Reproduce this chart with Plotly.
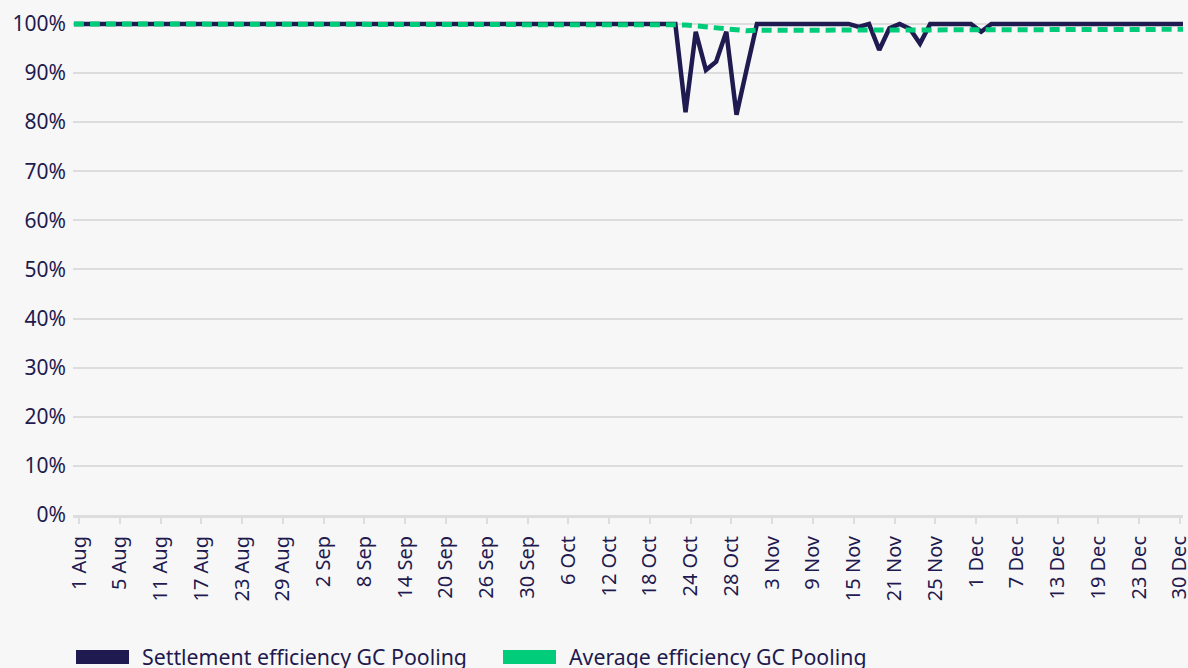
import pandas as pd
import plotly.graph_objects as go

# Data points: every weekday 1 Aug - 30 Dec 2022 (110 points)
point_days = pd.bdate_range("2022-08-01", "2022-12-30")
point_dates = [f"{d.day} {d.strftime('%b')}" for d in point_days]
# Axis labels: TARGET business days (26 Dec closed), one label every 4 days
label_days = [d for d in point_days if d != pd.Timestamp("2022-12-26")]
label_dates = [f"{d.day} {d.strftime('%b')}" for d in label_days]
tick_labels = label_dates[::4]

settlement = [
    100, 100, 100, 100, 100, 100, 100, 100, 100, 100,
    100, 100, 100, 100, 100, 100, 100, 100, 100, 100,
    100, 100, 100, 100, 100, 100, 100, 100, 100, 100,
    100, 100, 100, 100, 100, 100, 100, 100, 100, 100,
    100, 100, 100, 100, 100, 100, 100, 100, 100, 100,
    100, 100, 100, 100, 100, 100, 100, 100, 100, 100,
    82.0, 98.4, 90.6, 92.3, 98.4, 81.5, 90.8, 100, 100, 100,
    100, 100, 100, 100, 100, 100, 100, 99.4, 100, 94.7,
    99.1, 100, 99.0, 96.0, 100, 100, 100, 100, 100, 98.4,
    100, 100, 100, 100, 100, 100, 100, 100, 100, 100,
    100, 100, 100, 100, 100, 100, 100, 100, 100, 100,
]
average = [
    100, 100, 100, 100, 100, 100, 100, 100, 100, 100,
    100, 100, 100, 100, 100, 100, 100, 100, 100, 100,
    100, 100, 100, 100, 100, 100, 100, 100, 100, 100,
    100, 100, 100, 100, 100, 100, 100, 100, 100, 100,
    100, 100, 100, 100, 100, 100, 100, 100, 100, 100,
    100, 100, 100, 100, 100, 100, 100, 100, 100, 100,
    99.8, 99.6, 99.4, 99.3, 99.1, 98.9, 98.6, 98.7, 98.7, 98.7,
    98.7, 98.7, 98.7, 98.7, 98.7, 98.7, 98.7, 98.7, 98.7, 98.7,
    98.7, 98.7, 98.7, 98.7, 98.7, 98.7, 98.7, 98.7, 98.7, 98.7,
    98.8, 98.8, 98.8, 98.8, 98.8, 98.8, 98.8, 98.8, 98.8, 98.8,
    98.8, 98.8, 98.8, 98.9, 98.9, 98.9, 98.9, 98.9, 98.9, 98.9,
]
assert len(point_dates) == len(settlement) == len(average) == 110

y_ticks = list(range(0, 101, 10))
y_tick_text = [f"{v}%" for v in y_ticks]

NAVY = "#1f1a4f"
GREEN = "#00cc7a"
GRID = "#dddddd"
BG = "#f7f7f7"
FONT = "Noto Sans"

W, H = 1188, 668
ML, MR, MT, MB = 73, 5, 19, 153

fig = go.Figure()
fig.add_trace(go.Scatter(x=point_dates, y=settlement, mode="lines",
                         line=dict(color=NAVY, width=4.5),
                         name="Settlement efficiency GC Pooling", showlegend=False))
fig.add_trace(go.Scatter(x=point_dates, y=average, mode="lines",
                         line=dict(color=GREEN, width=5, dash="10px,6px"),
                         name="Average efficiency GC Pooling", showlegend=False))
# empty carrier of the date-label axis (draws nothing)
fig.add_trace(go.Scatter(x=label_dates, y=[None] * len(label_dates), mode="lines",
                         xaxis="x2", yaxis="y", hoverinfo="skip", showlegend=False))

pw = W - ML - MR
ph = H - MT - MB

def px_x(p):
    return (p - ML) / pw

def px_y(p):
    return (H - MB - p) / ph

legend_items = [
    ("Settlement efficiency GC Pooling", NAVY, 76, 129, 140),
    ("Average efficiency GC Pooling", GREEN, 503, 556, 567),
]
shapes = []
annotations = []
for label, col, x0, x1, tx in legend_items:
    shapes.append(dict(type="rect", xref="paper", yref="paper",
                       x0=px_x(x0), x1=px_x(x1), y0=px_y(664), y1=px_y(650),
                       fillcolor=col, line=dict(width=0)))
    annotations.append(dict(xref="paper", yref="paper", x=px_x(tx), y=px_y(656),
                            xanchor="left", yanchor="middle", showarrow=False,
                            text=label, font=dict(family=FONT, size=21.3, color=NAVY)))

fig.update_layout(
    width=W, height=H, autosize=False,
    margin=dict(l=ML, r=MR, t=MT, b=MB, pad=0, autoexpand=False),
    paper_bgcolor=BG, plot_bgcolor=BG,
    font=dict(family=FONT, size=20, color=NAVY),
    shapes=shapes, annotations=annotations,
    showlegend=False,
    xaxis=dict(
        type="category", range=[-0.089, 108.80], automargin=False,
        showticklabels=False, ticks="", showgrid=False,
        showline=True, linecolor=GRID, linewidth=3,
    ),
    xaxis2=dict(
        overlaying="x", anchor="y", side="bottom", type="category",
        range=[-0.589, 108.30], automargin=False,
        tickmode="array", tickvals=tick_labels, ticktext=tick_labels,
        tickangle=-90, ticks="outside", ticklen=8, tickwidth=2, tickcolor=GRID,
        showgrid=False, showline=False, zeroline=False,
        ticklabelstandoff=4,
        tickfont=dict(family=FONT, size=20, color=NAVY),
    ),
    yaxis=dict(
        range=[0, 101], tickmode="array", tickvals=y_ticks, ticktext=y_tick_text,
        automargin=False,
        showgrid=True, gridcolor=GRID, gridwidth=2, zeroline=False,
        ticks="", ticklabelstandoff=6,
        tickfont=dict(family=FONT, size=21, color=NAVY),
    ),
)

fig.write_html(
    "out.html",
    config={"responsive": False, "displayModeBar": False},
    post_script="document.body.style.margin='0';document.body.style.background='#f7f7f7';"
                "document.documentElement.style.overflow='hidden';",
)
